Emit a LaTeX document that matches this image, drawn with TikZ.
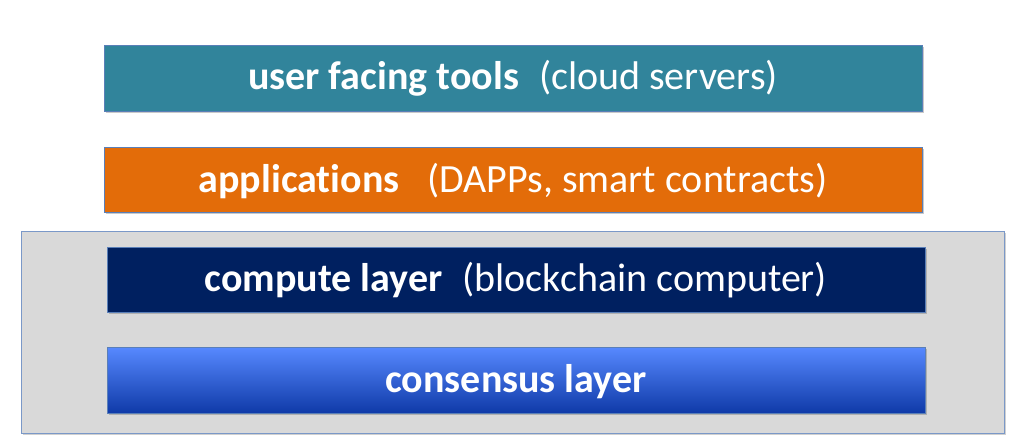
\documentclass[tikz,border=0pt]{standalone}
\usepackage{fontspec}
\setmainfont{Carlito}[Ligatures={NoCommon}]
\usetikzlibrary{shadows}
\definecolor{teal1}{HTML}{31849B}
\definecolor{orange1}{HTML}{E36C09}
\definecolor{navy1}{HTML}{002060}
\definecolor{gtop}{HTML}{5789FF}
\definecolor{gbot}{HTML}{0F3AA8}
\definecolor{panel}{HTML}{D9D9D9}
\definecolor{panelborder}{HTML}{7A98C8}
\definecolor{boxborder}{HTML}{5A7FB8}
\tikzset{
  layer/.style={draw=boxborder, line width=0.8pt,
    drop shadow={shadow xshift=1.5pt, shadow yshift=-2pt, opacity=0.35, fill=black!60}},
  label/.style={text=white, anchor=base, inner sep=0pt, font=\fontsize{40}{48}\selectfont},
}
\begin{document}
\begin{tikzpicture}[x=1pt,y=-1pt]
\useasboundingbox (0,0) rectangle (1027,447);
\fill[white] (0,0) rectangle (1027,447);
\path[draw=panelborder, fill=panel, line width=0.8pt, drop shadow={shadow xshift=1.5pt, shadow yshift=-2pt, opacity=0.3, fill=black!60}]
  (21,231) rectangle (1004,433);
\path[layer, fill=teal1] (104,45) rectangle (922,111);
\path[layer, fill=orange1] (104,147) rectangle (922,212);
\path[layer, fill=navy1] (107,247) rectangle (925,312);
\path[layer, top color=gtop, bottom color=gbot] (107,347) rectangle (925,413);
\node[label] (t1) at (513,89.5) {\textbf{user facing tools}\hspace{0.5em}(cloud servers)};
\node[label] (t2) at (513,192) {\textbf{applications}\hspace{0.7em}(DAPPs, smart contracts)};
\node[label] (t3) at (516,291.5) {\textbf{compute layer}\hspace{0.5em}(blockchain computer)};
\node[label] (t4) at (516,392) {\textbf{consensus layer}};
\end{tikzpicture}
\end{document}
